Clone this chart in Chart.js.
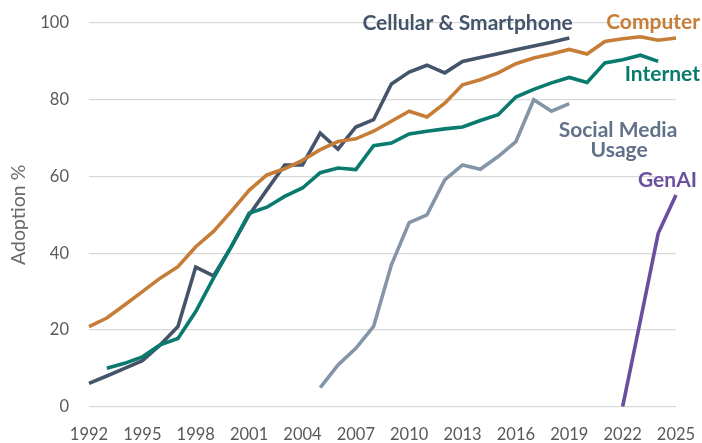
<!DOCTYPE html>
<html>
<head>
<meta charset="utf-8">
<script src="https://cdn.jsdelivr.net/npm/chart.js@4"></script>
<style>
  html, body { margin: 0; padding: 0; background: #ffffff; }
  #wrap { width: 702px; height: 443px; position: relative; }
</style>
</head>
<body>
<div id="wrap"><canvas id="c" width="702" height="443"></canvas></div>
<script>
const years = ["1992","1993","1994","1995","1996","1997","1998","1999","2000","2001","2002","2003","2004","2005","2006","2007","2008","2009","2010","2011","2012","2013","2014","2015","2016","2017","2018","2019","2020","2021","2022","2023","2024","2025"];

const cellular = [6.1, 8, 10, 12, 16.1, 20.9, 36.4, 34.1, 41.7, 50, 56.5, 63, 63, 71.3, 67.1, 72.9, 74.8, 84.1, 87.2, 89, 87, 90, 91, 92, 93, 94, 95, 96.1, null, null, null, null, null, null];

const computer = [20.9, 23.1, 26.5, 30, 33.5, 36.5, 41.7, 45.7, 50.9, 56.4, 60.4, 62, 64.2, 67, 69.1, 69.8, 71.8, 74.4, 77, 75.5, 79.1, 83.9, 85.2, 87, 89.4, 90.9, 91.9, 93.1, 91.9, 95.2, 95.9, 96.4, 95.5, 96.1];

const internet = [null, 10, 11.3, 13, 16.1, 17.8, 24.8, 33.5, 41.7, 50.4, 52, 54.8, 57, 61, 62.2, 61.8, 68, 68.7, 71.1, 71.8, 72.4, 72.9, 74.6, 76.1, 80.7, 82.7, 84.4, 85.8, 84.5, 89.6, 90.4, 91.6, 90, null];

const socialMedia = [null, null, null, null, null, null, null, null, null, null, null, null, null, 5, 10.9, 15.2, 20.9, 37, 48, 50, 59.1, 63, 61.9, 65.2, 69.1, 80, 77, 79, null, null, null, null, null, null];

const genAI = [null, null, null, null, null, null, null, null, null, null, null, null, null, null, null, null, null, null, null, null, null, null, null, null, null, null, null, null, null, null, 0, 22.5, 45.2, 55.2];

const yTicks = [0, 20, 40, 60, 80, 100];

const colors = {
  cellular: "#44546a",
  computer: "#c67d37",
  internet: "#087b6e",
  social: "#8595a8",
  socialText: "#607189",
  genai: "#6a4f9e"
};

// Series labels: [text, year, value, align, color]
const seriesLabels = [
  ["Cellular & Smartphone", 2019.2, 98.1, "right", colors.cellular],
  ["Computer", 2026.35, 98.4, "right", colors.computer],
  ["Internet", 2026.35, 84.8, "right", colors.internet],
  ["Social Media", 2021.74, 70.4, "center", colors.socialText],
  ["Usage", 2021.8, 65.1, "center", colors.socialText],
  ["GenAI", 2026.18, 57.2, "right", colors.genai]
];

const labelPlugin = {
  id: "seriesLabels",
  afterDatasetsDraw(chart) {
    const ctx = chart.ctx;
    const xs = chart.scales.x, ys = chart.scales.y;
    const x0 = xs.getPixelForValue(0), x1 = xs.getPixelForValue(1);
    ctx.save();
    ctx.font = "bold 21px Lato, 'Open Sans', sans-serif";
    ctx.textBaseline = "alphabetic";
    seriesLabels.forEach(([t, yr, v, al, col]) => {
      const px = x0 + (yr - 1992) * (x1 - x0);
      const py = ys.getPixelForValue(v);
      ctx.fillStyle = col;
      ctx.textAlign = al;
      ctx.fillText(t, px, py);
    });
    ctx.restore();
  }
};

function ds(label, data, color) {
  return {
    label, data,
    borderColor: color,
    backgroundColor: color,
    borderWidth: 3.6,
    pointRadius: 0,
    pointHoverRadius: 0,
    tension: 0,
    spanGaps: false,
    fill: false,
    borderCapStyle: "butt",
    borderJoinStyle: "miter"
  };
}

new Chart(document.getElementById("c"), {
  type: "line",
  data: {
    labels: years,
    datasets: [
      ds("GenAI", genAI, colors.genai),
      ds("Social Media Usage", socialMedia, colors.social),
      ds("Internet", internet, colors.internet),
      ds("Computer", computer, colors.computer),
      ds("Cellular & Smartphone", cellular, colors.cellular)
    ]
  },
  options: {
    responsive: false,
    animation: false,
    devicePixelRatio: 1,
    layout: { padding: { top: 23, right: 26, bottom: 0, left: 0 } },
    plugins: { legend: { display: false }, tooltip: { enabled: false } },
    scales: {
      x: {
        type: "category",
        offset: false,
        grid: { display: false, drawTicks: false },
        border: { display: false },
        ticks: {
          autoSkip: false,
          maxRotation: 0,
          minRotation: 0,
          padding: 18,
          color: "#595959",
          font: { family: "Lato, 'Open Sans', sans-serif", size: 16.5 },
          callback: function(v, i) { return i % 3 === 0 ? years[i] : null; }
        },
        afterFit(s) { s.height = 36.3; s.paddingLeft = 0; s.paddingRight = 0; }
      },
      y: {
        min: 0, max: 100,
        afterBuildTicks(s) { s.ticks = yTicks.map(v => ({ value: v })); },
        grid: { color: "#d9d9d9", lineWidth: 1.2, drawTicks: false },
        border: { display: false },
        ticks: {
          padding: 20,
          color: "#595959",
          font: { family: "Lato, 'Open Sans', sans-serif", size: 16.5 }
        },
        title: {
          display: true,
          text: "Adoption %",
          color: "#6a6a6a",
          font: { family: "Lato, 'Open Sans', sans-serif", size: 19.5 },
          padding: { top: 7, bottom: 0 }
        },
        afterFit(s) { s.width = 89; s.paddingTop = 0; s.paddingBottom = 0; }
      }
    }
  },
  plugins: [labelPlugin]
});
</script>
</body>
</html>
